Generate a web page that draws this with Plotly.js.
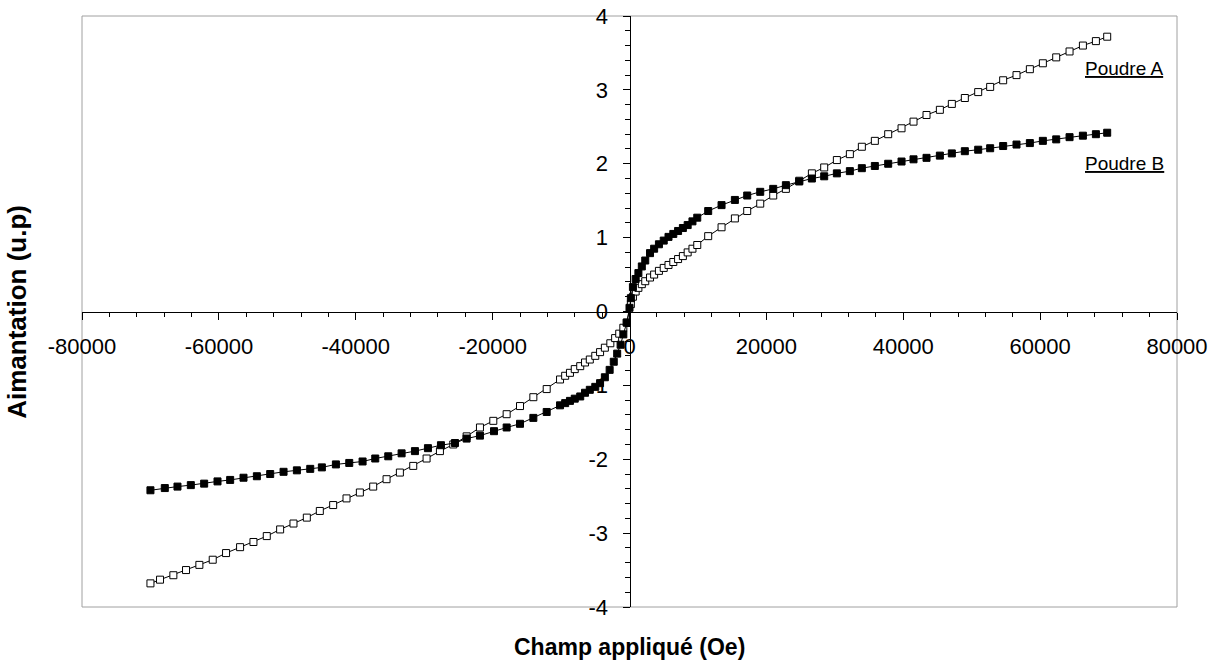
<!DOCTYPE html>
<html>
<head>
<meta charset="utf-8">
<script src="https://cdn.plot.ly/plotly-3.0.1.min.js"></script>
<style>html,body{margin:0;padding:0;background:#fff;}#chart{width:1222px;height:666px;}</style>
</head>
<body>
<div id="chart"></div>
<script>
// Poudre A (open squares)
const fieldA = [
  -70000, -68600, -66650, -64800, -62850, -60900, -58950, -56900, -54950, -53000,
  -51050, -49100, -47150, -45250, -43300, -41350, -39400, -37450, -35500, -33550,
  -31600, -29650, -27700, -25750, -23800, -21850, -19900, -17950, -16000, -14050,
  -12100, -10150, -9400, -8700, -8000, -7200, -6500, -5800, -5000, -4300,
  -3600, -2800, -2100, -1500, -900, -400, 200, 500, 900, 1300,
  1800, 2300, 3000, 3600, 4300, 5000, 5700, 6400, 7100, 7800,
  8500, 9200, 9900, 11500, 13450, 15400, 17200, 19100, 21000, 22850,
  24800, 26650, 28450, 30300, 32200, 33950, 35850, 37800, 39750, 41500,
  43400, 45350, 47100, 49000, 50950, 52700, 54600, 56550, 58500, 60400,
  62350, 64300, 66250, 68150, 69800
];
const magA = [
  -3.68, -3.63, -3.57, -3.50, -3.43, -3.36, -3.27, -3.19, -3.12, -3.04,
  -2.95, -2.87, -2.79, -2.70, -2.62, -2.53, -2.45, -2.37, -2.27, -2.18,
  -2.09, -1.99, -1.89, -1.80, -1.69, -1.57, -1.48, -1.39, -1.28, -1.16,
  -1.05, -0.92, -0.87, -0.83, -0.78, -0.74, -0.69, -0.65, -0.60, -0.55,
  -0.49, -0.43, -0.36, -0.30, -0.22, -0.15, 0.10, 0.20, 0.27, 0.32,
  0.37, 0.41, 0.46, 0.50, 0.55, 0.59, 0.63, 0.67, 0.71, 0.75,
  0.80, 0.85, 0.90, 1.02, 1.14, 1.26, 1.36, 1.46, 1.57, 1.66,
  1.77, 1.87, 1.95, 2.05, 2.13, 2.23, 2.31, 2.40, 2.48, 2.57,
  2.66, 2.73, 2.81, 2.89, 2.97, 3.04, 3.13, 3.20, 3.28, 3.36,
  3.44, 3.52, 3.60, 3.66, 3.72
];
// Poudre B (filled squares)
const fieldB = [
  -70000, -67900, -66050, -64100, -62150, -60200, -58350, -56400, -54450, -52500,
  -50550, -48600, -46650, -44950, -42900, -40950, -39000, -37150, -35250, -33300,
  -31350, -29450, -27550, -25500, -23800, -21850, -19800, -17950, -16000, -14050,
  -12100, -10150, -9400, -8700, -8000, -7200, -6500, -5800, -5000, -4300,
  -3600, -2900, -2300, -1800, -1300, -900, -400, 0, 200, 500,
  900, 1300, 1800, 2300, 3000, 3600, 4300, 5000, 5700, 6400,
  7100, 7800, 8500, 9200, 9900, 11500, 13450, 15400, 17200, 19100,
  21000, 22850, 24800, 26650, 28450, 30300, 32200, 33950, 35850, 37800,
  39750, 41500, 43400, 45350, 47100, 49000, 50950, 52700, 54600, 56550,
  58500, 60400, 62350, 64300, 66250, 68150, 69800
];
const magB = [
  -2.42, -2.39, -2.37, -2.35, -2.33, -2.30, -2.28, -2.25, -2.23, -2.20,
  -2.17, -2.15, -2.13, -2.11, -2.07, -2.05, -2.03, -1.99, -1.96, -1.92,
  -1.89, -1.85, -1.81, -1.78, -1.72, -1.68, -1.62, -1.57, -1.52, -1.44,
  -1.36, -1.27, -1.24, -1.21, -1.18, -1.15, -1.10, -1.06, -1.02, -0.97,
  -0.89, -0.79, -0.68, -0.57, -0.45, -0.31, -0.15, 0.05, 0.18, 0.33,
  0.44, 0.52, 0.61, 0.69, 0.79, 0.85, 0.91, 0.96, 1.01, 1.05,
  1.09, 1.13, 1.17, 1.22, 1.27, 1.36, 1.44, 1.51, 1.57, 1.62,
  1.66, 1.71, 1.76, 1.80, 1.83, 1.87, 1.90, 1.94, 1.97, 2.00,
  2.03, 2.06, 2.08, 2.11, 2.14, 2.17, 2.19, 2.21, 2.24, 2.26,
  2.28, 2.31, 2.33, 2.36, 2.38, 2.40, 2.42
];
const xTickVals = [-80000, -60000, -40000, -20000, 0, 20000, 40000, 60000, 80000];
const xTickText = ['-80000', '-60000', '-40000', '-20000', '0', '20000', '40000', '60000', '80000'];
const yTickVals = [-4, -3, -2, -1, 0, 1, 2, 3, 4];
const yTickText = ['-4', '-3', '-2', '-1', '0', '1', '2', '3', '4'];
const seriesNames = ['Poudre A', 'Poudre B'];
const xTitle = 'Champ appliqué (Oe)';
const yTitle = 'Aimantation (u.p)';

const FONT = 'Liberation Sans, Arial, sans-serif';

const traceA = {
  x: fieldA, y: magA, type: 'scatter', mode: 'lines+markers', name: seriesNames[0],
  line: {color: '#000', width: 1},
  marker: {symbol: 'square', size: 7, color: '#fff', line: {color: '#000', width: 1}}
};
const traceB = {
  x: fieldB, y: magB, type: 'scatter', mode: 'lines+markers', name: seriesNames[1],
  line: {color: '#000', width: 1},
  marker: {symbol: 'square', size: 7, color: '#000', line: {color: '#000', width: 1}}
};

const layout = {
  width: 1222, height: 666,
  margin: {l: 82, r: 45, t: 16, b: 59, pad: 0},
  paper_bgcolor: '#fff', plot_bgcolor: '#fff',
  showlegend: false,
  font: {family: FONT, color: '#000'},
  xaxis: {
    range: [-80000, 80000], anchor: 'free', position: 0.5,
    showline: true, linecolor: '#000', linewidth: 1,
    showgrid: false, zeroline: false,
    tickmode: 'array', tickvals: xTickVals, ticktext: xTickText,
    ticks: 'outside', ticklen: 7, tickwidth: 1, tickcolor: '#000',
    minor: {ticks: 'outside', ticklen: 4, tickcolor: '#000', tickmode: 'linear', tick0: 0, dtick: 4000, showgrid: false},
    tickfont: {family: FONT, size: 22, color: '#000'},
    ticklabelstandoff: 8
  },
  yaxis: {
    range: [-4, 4], anchor: 'free', position: 0.5,
    showline: true, linecolor: '#000', linewidth: 1,
    showgrid: false, zeroline: false,
    tickmode: 'array', tickvals: yTickVals, ticktext: yTickText,
    ticks: 'outside', ticklen: 7, tickwidth: 1, tickcolor: '#000',
    minor: {ticks: 'outside', ticklen: 5, tickcolor: '#000', tickmode: 'linear', tick0: 0, dtick: 0.2, showgrid: false},
    tickfont: {family: FONT, size: 22, color: '#000'},
    ticklabelstandoff: 10
  },
  shapes: [{
    type: 'rect', xref: 'paper', yref: 'paper', x0: 0, x1: 1, y0: 0, y1: 1,
    line: {color: '#a0a0a0', width: 1}, layer: 'below'
  }],
  annotations: [
    {text: '<u>' + seriesNames[0] + '</u>', xref: 'x', yref: 'y', x: 66300, y: 3.29,
     xanchor: 'left', yanchor: 'middle', showarrow: false, font: {family: FONT, size: 19, color: '#000'}},
    {text: '<u>' + seriesNames[1] + '</u>', xref: 'x', yref: 'y', x: 66300, y: 2.0,
     xanchor: 'left', yanchor: 'middle', showarrow: false, font: {family: FONT, size: 19, color: '#000'}},
    {text: '<b>' + xTitle + '</b>', xref: 'paper', yref: 'paper', x: 0.5, y: -0.068,
     xanchor: 'center', yanchor: 'middle', showarrow: false, font: {family: FONT, size: 23, color: '#000'}},
    {text: '<b>' + yTitle + '</b>', xref: 'paper', yref: 'paper', x: -0.06, y: 0.5, textangle: -90,
     xanchor: 'center', yanchor: 'middle', showarrow: false, font: {family: FONT, size: 26, color: '#000'}}
  ]
};

Plotly.newPlot('chart', [traceA, traceB], layout, {displayModeBar: false, staticPlot: true});
</script>
</body>
</html>
